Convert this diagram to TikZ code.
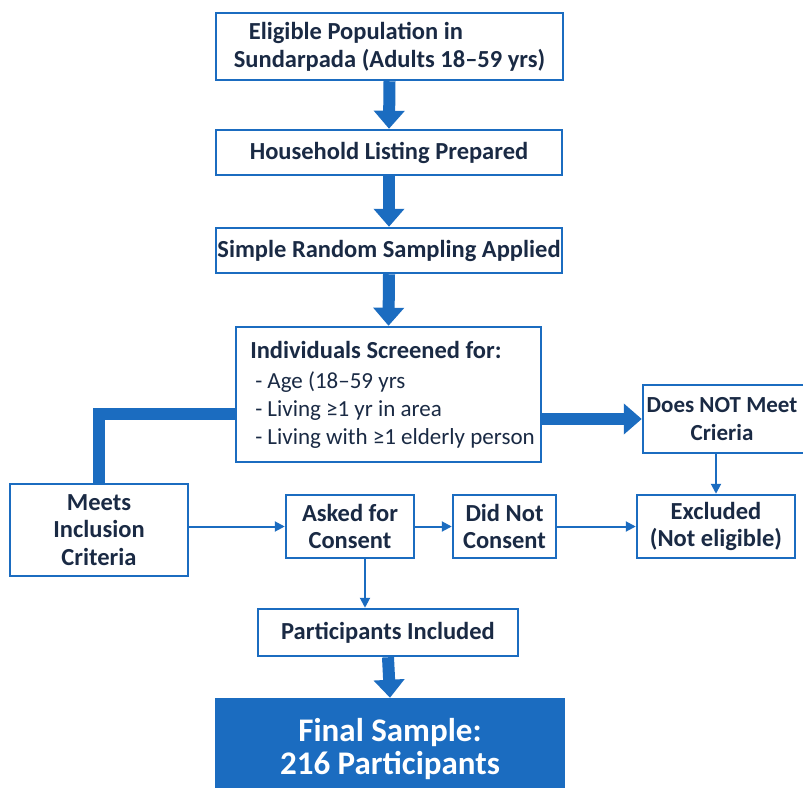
\documentclass[tikz,border=0pt]{standalone}
\usepackage{fontspec}
\setmainfont{Carlito}
\usepackage{tikz}
\usetikzlibrary{arrows.meta}
\usepackage{xcolor}
\definecolor{flowblue}{RGB}{27,108,192}
\definecolor{flowtext}{RGB}{26,42,68}

\begin{document}
\begin{tikzpicture}[x=1pt,y=-1pt,
  box/.style={rectangle,draw=flowblue,line width=2.5pt,fill=white,text=flowtext,font=\fontsize{24.5}{27.5}\selectfont\bfseries,align=center,inner sep=0pt},
  bigarrow/.style={draw=flowblue,line width=12pt,-{Triangle[width=30pt,length=18pt]}},
  bigline/.style={draw=flowblue,line width=12pt},
  thinarrow/.style={draw=flowblue,line width=2pt,-{Triangle[width=10pt,length=10pt]}}]
\clip (0,0) rectangle (803,787);
\fill[white] (0,0) rectangle (803,787);

\node [box,minimum width=347pt,minimum height=67pt,align=left,font=\fontsize{24.5}{28}\selectfont\bfseries] (elig) at (389.5,46.5) {\hspace*{15pt}Eligible Population in\\Sundarpada (Adults 18--59 yrs)};
\node [box,minimum width=346pt,minimum height=45pt] (house) at (389,152.5) {Household Listing Prepared};
\node [box,minimum width=346pt,minimum height=45pt] (srs) at (389,250.5) {Simple Random Sampling Applied};
\node [box,minimum width=305pt,minimum height=135pt,align=left,font=\fontsize{23}{28}\selectfont] (scr) at (388.5,394.5)
  {\hspace*{8pt}\textbf{\fontsize{24.5}{28}\selectfont Individuals Screened for:}\\[2pt]
   \hspace*{13pt}- Age (18--59 yrs\\
   \hspace*{13pt}- Living ≥1 yr in area\\
   \hspace*{13pt}- Living with ≥1 elderly person};
\node [box,minimum width=172pt,minimum height=68pt,font=\fontsize{23}{27.5}\selectfont\bfseries] (nomeet) at (729,419) {Does NOT Meet\hspace*{14pt}\\Crieria\hspace*{14pt}};
\node [box,minimum width=178pt,minimum height=92pt] (meets) at (99,530) {Meets\\Inclusion\\Criteria};
\node [box,minimum width=128pt,minimum height=63pt] (ask) at (350,526.5) {Asked for\\Consent};
\node [box,minimum width=103pt,minimum height=63pt] (notcons) at (504.5,526.5) {Did Not\\Consent};
\node [box,minimum width=158pt,minimum height=63pt] (excl) at (716,526.5) {Excluded\\(Not eligible)};
\node [box,minimum width=260pt,minimum height=47pt] (part) at (388,632.5) {Participants Included};
\node [box,fill=flowblue,text=white,minimum width=348pt,minimum height=101pt,font=\fontsize{33}{33}\selectfont\bfseries] (final) at (390,749.5) {Final Sample:\\216 Participants};

% main stream
\draw [bigarrow] (elig.south) -- (house.north);
\draw [bigarrow] (house.south) -- (srs.north);
\draw [bigarrow] (srs.south) -- (scr.north);
\draw [bigarrow] (scr.east |- nomeet.west) -- (nomeet.west);
\draw [bigline] ([yshift=5pt]scr.west |- nomeet.west) -| (meets.north);
\draw [bigarrow] (part.south) -- (final.north);

% consent branch
\draw [thinarrow] (meets.east |- ask.west) -- (ask.west);
\draw [thinarrow] (ask.east) -- (notcons.west);
\draw [thinarrow] (notcons.east) -- (excl.west);
\draw [thinarrow] (excl.north |- nomeet.south) -- (excl.north);
\draw [thinarrow] ([xshift=15pt]ask.south) -- ([xshift=15pt]ask.south |- part.north);
\end{tikzpicture}
\end{document}
